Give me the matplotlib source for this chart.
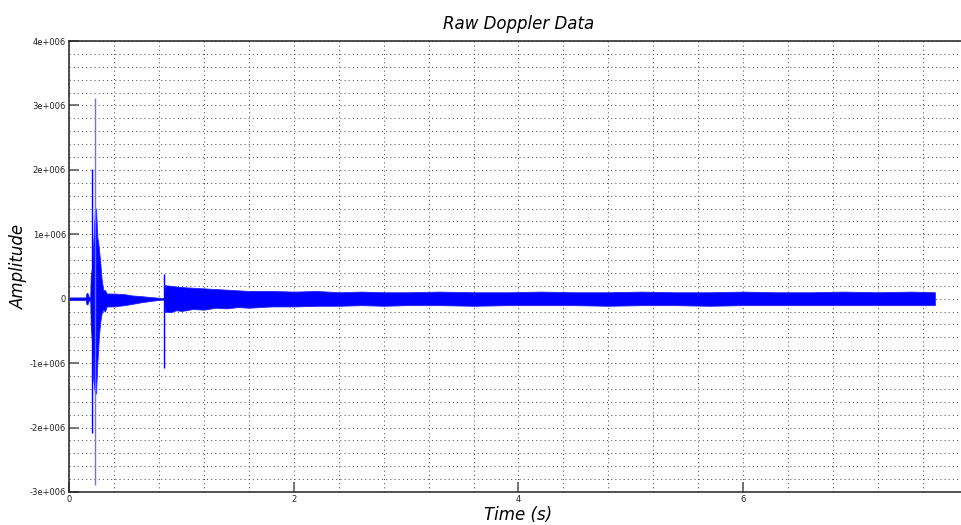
import matplotlib
matplotlib.use("Agg")
import matplotlib.pyplot as plt
from matplotlib.ticker import MultipleLocator, FixedLocator, FuncFormatter

env_t = [0.00, 0.10, 0.145, 0.150, 0.158, 0.165, 0.170, 0.185, 0.189, 0.203, 0.212,
         0.227, 0.236, 0.248, 0.260, 0.272, 0.287, 0.301, 0.316, 0.331, 0.40, 0.49,
         0.56, 0.64, 0.72, 0.82, 0.843, 0.850, 0.90, 0.95, 1.00, 1.10, 1.20, 1.30,
         1.40, 1.50, 1.60, 1.80, 2.00, 2.20, 2.40, 2.60, 2.80, 3.00, 3.30, 3.60,
         3.90, 4.20, 4.50, 4.80, 5.10, 5.40, 5.70, 6.00, 6.30, 6.60, 6.90, 7.20,
         7.50, 7.71]
env_hi = [0.02, 0.02, 0.02, 0.08, 0.09, 0.07, 0.03, 0.03, 0.35, 0.50, 0.86,
          1.40, 1.40, 0.96, 0.81, 0.60, 0.29, 0.13, 0.135, 0.08, 0.08, 0.07,
          0.05, 0.04, 0.025, 0.012, 0.012, 0.21, 0.20, 0.19, 0.18, 0.17, 0.16, 0.15,
          0.14, 0.13, 0.12, 0.12, 0.11, 0.12, 0.10, 0.11, 0.10, 0.10, 0.11, 0.10,
          0.10, 0.11, 0.10, 0.10, 0.11, 0.10, 0.10, 0.11, 0.10, 0.10, 0.11, 0.10,
          0.11, 0.10]
env_lo = [-0.02, -0.02, -0.02, -0.08, -0.09, -0.07, -0.03, -0.03, -0.40, -0.74, -1.26,
          -1.47, -1.47, -1.00, -0.64, -0.38, -0.22, -0.17, -0.20, -0.12, -0.12, -0.10,
          -0.08, -0.055, -0.035, -0.015, -0.015, -0.20, -0.21, -0.18, -0.19, -0.16, -0.17, -0.14,
          -0.15, -0.13, -0.14, -0.12, -0.12, -0.11, -0.11, -0.10, -0.11, -0.10, -0.10, -0.11,
          -0.10, -0.10, -0.10, -0.11, -0.10, -0.10, -0.11, -0.10, -0.10, -0.10, -0.10, -0.10,
          -0.10, -0.10]

# single sample spikes
spike_t = [0.198, 0.224, 0.845]
spike_hi = [2.01, 3.11, 0.38]
spike_lo = [-2.09, -2.89, -1.08]
spike_col = ["#0000ff", "#6f6fff", "#0000ff"]

x_ticks = [0, 2, 4, 6]

SCALE = 1e6


def fmt(v, pos):
    if abs(v) < 1:
        return "0"
    return "%de+006" % round(v / SCALE)


fig = plt.figure(figsize=(9.61, 5.25), dpi=100)
ax = fig.add_axes([0.0723, 0.0629, 0.9344, 0.859])

ax.fill_between(env_t, [v * SCALE for v in env_lo], [v * SCALE for v in env_hi],
                color="#0000ff", linewidth=0.6, edgecolor="#2020ff", zorder=3)
for t, hi, lo, c in zip(spike_t, spike_hi, spike_lo, spike_col):
    ax.vlines(t, lo * SCALE, hi * SCALE, colors=c, linewidth=1.0, zorder=3)

ax.set_xlim(0, 8)
ax.set_ylim(-3e6, 4e6)

ax.xaxis.set_major_locator(FixedLocator(x_ticks))
ax.xaxis.set_minor_locator(MultipleLocator(0.4))
ax.yaxis.set_major_locator(MultipleLocator(1e6))
ax.yaxis.set_minor_locator(MultipleLocator(0.2e6))
ax.yaxis.set_major_formatter(FuncFormatter(fmt))

ax.grid(True, which="both", color="#555555", linestyle=(0, (1, 3)), linewidth=0.75)
ax.set_axisbelow(True)

ax.tick_params(which="major", direction="in", length=7.5, width=1.1, color="#555555",
               labelsize=6, pad=2.5, labelcolor="#222222")
ax.tick_params(which="minor", length=0)

for side in ["left", "bottom", "top"]:
    ax.spines[side].set_linewidth(1.1)
    ax.spines[side].set_color("#222222")
ax.spines["right"].set_visible(False)

ax.set_title("Raw Doppler Data", fontsize=12, style="italic", pad=9)
ax.set_xlabel("Time (s)", fontsize=12, style="italic", labelpad=1)
ax.set_ylabel("Amplitude", fontsize=12, style="italic", labelpad=1)

fig.savefig("out.png", dpi=100)
